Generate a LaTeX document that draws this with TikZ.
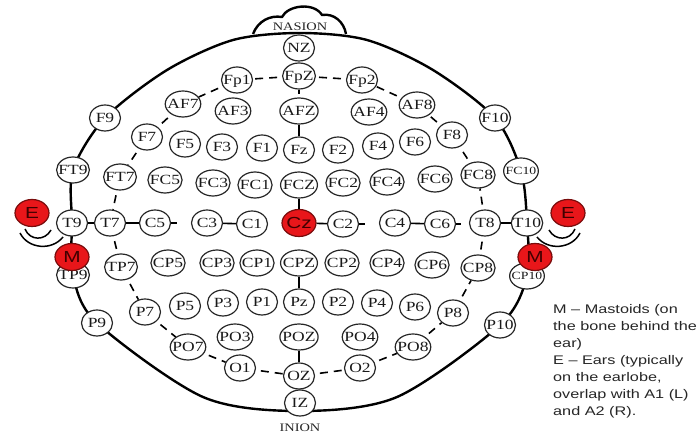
\documentclass[tikz,border=0pt]{standalone}
\usepackage{fontspec}
\setmainfont{Liberation Serif}
\newfontfamily\labelfont[FakeStretch=1.25]{Liberation Serif}
\newfontfamily\keyfont[FakeStretch=1.3]{Liberation Sans}
\usetikzlibrary{shapes.geometric,backgrounds}
\definecolor{refred}{RGB}{232,22,26}
\definecolor{refedge}{RGB}{120,12,12}

\begin{document}
\begin{tikzpicture}[x=1pt,y=-1pt,
  elec/.style={ellipse, draw=black!85, line width=1.2pt, fill=white,
    minimum width=31pt, minimum height=26pt, inner xsep=-3pt, inner ysep=0pt,
    text height=9.5pt, text depth=0pt, text=black!90,
    font=\labelfont\fontsize{14pt}{14pt}\selectfont},
  small/.style={font=\labelfont\fontsize{11pt}{11pt}\selectfont, text height=7.5pt},
  marked/.style={elec, fill=refred, draw=refedge, text=black!75!red,
    minimum width=34pt, minimum height=27pt, text height=11.5pt,
    font=\keyfont\fontsize{16pt}{16pt}\selectfont},
  outline/.style={line width=2.4pt},
  link/.style={line width=1.6pt},
  ringlink/.style={line width=1.6pt, dash pattern=on 8pt off 6pt, dash phase=9pt},
  ear/.style={line width=1.5pt},
  tag/.style={inner sep=0pt, text=black!85, font=\labelfont\fontsize{11.5pt}{12pt}\selectfont},
  key/.style={inner sep=0pt, align=left, text=black!85,
    font=\keyfont\fontsize{12.5pt}{17pt}\selectfont}
]
\useasboundingbox (0,0) rectangle (697,438);

% midline
\node[elec] (NZ)  at (299,48)  {NZ};
\node[elec] (FpZ) at (299,76)  {FpZ};
\node[elec] (AFZ) at (299,111) {AFZ};
\node[elec] (Fz)  at (299,150) {Fz};
\node[elec] (FCZ) at (299,185) {FCZ};
\node[elec] (CPZ) at (299,263) {CPZ};
\node[elec] (Pz)  at (299,302) {Pz};
\node[elec] (POZ) at (299,337) {POZ};
\node[elec] (OZ)  at (299,376) {OZ};
\node[elec] (IZ)  at (300,403) {IZ};

% frontal
\node[elec] (Fp1) at (237,80)  {Fp1};
\node[elec] (Fp2) at (362,80)  {Fp2};
\node[elec] (AF7) at (183,104) {AF7};
\node[elec] (AF3) at (233,111) {AF3};
\node[elec] (AF4) at (369,112) {AF4};
\node[elec] (AF8) at (417,105) {AF8};
\node[elec] (F9)  at (105,118) {F9};
\node[elec] (F7)  at (147,137) {F7};
\node[elec] (F5)  at (185,144) {F5};
\node[elec] (F3)  at (222,147) {F3};
\node[elec] (F1)  at (262,148) {F1};
\node[elec] (F2)  at (338,150) {F2};
\node[elec] (F4)  at (378,146) {F4};
\node[elec] (F6)  at (415,142) {F6};
\node[elec] (F8)  at (452,135) {F8};
\node[elec] (F10) at (495,118) {F10};

% fronto-central
\node[elec] (FT9) at (73,170)  {FT9};
\node[elec] (FT7) at (120,177) {FT7};
\node[elec] (FC5) at (165,180) {FC5};
\node[elec] (FC3) at (213,183) {FC3};
\node[elec] (FC1) at (255,185) {FC1};
\node[elec] (FC2) at (343,183) {FC2};
\node[elec] (FC4) at (387,182) {FC4};
\node[elec] (FC6) at (435,179) {FC6};
\node[elec] (FC8) at (478,175) {FC8};
\node[elec,small] (FC10) at (521,171) {FC10};

% central
\node[elec] (T9)  at (72,223)  {T9};
\node[elec] (T7)  at (110,223) {T7};
\node[elec] (C5)  at (155,223) {C5};
\node[elec] (C3)  at (207,223) {C3};
\node[elec] (C1)  at (252,224) {C1};
\node[elec] (C2)  at (343,224) {C2};
\node[elec] (C4)  at (395,223) {C4};
\node[elec] (C6)  at (440,224) {C6};
\node[elec] (T8)  at (485,223) {T8};
\node[elec] (T10) at (527,223) {T10};

% centro-parietal
\node[elec] (TP9) at (73,275)  {TP9};
\node[elec] (TP7) at (121,267) {TP7};
\node[elec] (CP5) at (168,263) {CP5};
\node[elec] (CP3) at (217,263) {CP3};
\node[elec] (CP1) at (257,263) {CP1};
\node[elec] (CP2) at (342,263) {CP2};
\node[elec] (CP4) at (387,263) {CP4};
\node[elec] (CP6) at (432,265) {CP6};
\node[elec] (CP8) at (478,268) {CP8};
\node[elec,small] (CP10) at (527,276) {CP10};

% parietal and occipital
\node[elec] (P9)  at (97,323)  {P9};
\node[elec] (P7)  at (145,312) {P7};
\node[elec] (P5)  at (185,306) {P5};
\node[elec] (P3)  at (223,303) {P3};
\node[elec] (P1)  at (262,302) {P1};
\node[elec] (P2)  at (338,302) {P2};
\node[elec] (P4)  at (377,303) {P4};
\node[elec] (P6)  at (415,307) {P6};
\node[elec] (P8)  at (453,313) {P8};
\node[elec] (P10) at (500,325) {P10};
\node[elec] (PO7) at (188,347) {PO7};
\node[elec] (PO3) at (235,337) {PO3};
\node[elec] (PO4) at (360,337) {PO4};
\node[elec] (PO8) at (413,347) {PO8};
\node[elec] (O1)  at (240,368) {O1};
\node[elec] (O2)  at (360,368) {O2};

% reference sites
\node[marked] (Cz)    at (299,223) {Cz};
\node[marked] (mastL) at (72,257)  {M};
\node[marked] (mastR) at (535,257) {M};
\node[marked] (earL)  at (32,213)  {E};
\node[marked] (earR)  at (568,213) {E};

\node[tag] (nasion) at (300,27)  {NASION};
\node[tag] (inion)  at (300,428) {INION};

% links
\draw[link] (T9) -- (T7);
\draw[link] (T7) -- (C5);
\draw[link] (C3) -- (C1);
\draw[link] (Cz) -- (C2);
\draw[link] (C4) -- (C6);
\draw[link] (T8) -- (T10);
\draw[link] (C5.east) -- ++(6,0);
\draw[link] (C2.east) -- ++(6,0);
\draw[link] (C6.east) -- ++(5,0);
\draw[link] (AFZ) -- (Fz);
\draw[link] (FCZ) -- (Cz);
\draw[link] (CPZ) -- (Pz);
\draw[link] (POZ) -- (OZ);
\draw[link] (FpZ.south) -- ++(0,4);

\foreach \a/\b in {FpZ/Fp1, Fp1/AF7, AF7/F7, F7/FT7, FT7/T7, T7/TP7, TP7/P7,
    P7/PO7, PO7/O1, O1/OZ, OZ/O2, O2/PO8, PO8/P8, P8/CP8, CP8/T8, T8/FC8,
    FC8/F8, F8/AF8, AF8/Fp2, Fp2/FpZ}
  \draw[ringlink] (\a) -- (\b);

% ears
\draw[ear] (20,233) .. controls (28,249) and (52,251) .. (63,237);
\draw[ear] (25,229) .. controls (30,241) and (45,241) .. (51,230);
\draw[ear] (580,233) .. controls (572,249) and (548,251) .. (537,237);
\draw[ear] (575,229) .. controls (570,241) and (555,241) .. (549,230);

\node[key, anchor=north west] (key) at (553,304)
  {M – Mastoids (on\\the bone behind the\\ear)\\E – Ears (typically\\on the earlobe,\\overlap with A1 (L)\\and A2 (R).};

\begin{scope}[on background layer]
  \fill[white] (0,0) rectangle (697,438);
  \draw[outline] plot[smooth cycle] coordinates {(300,33) (367,40) (433,70)
    (F10.center) (FC10.center) (T10.center) (CP10.center) (P10.center)
    (397,397) (300,411) (203,397) (P9.center) (TP9.center) (T9.center)
    (FT9.center) (F9.center) (167,70) (233,40)};
  \draw[outline] (253,34) .. controls (258,21) and (270,15) .. (282,17)
    .. controls (288,5) and (314,2) .. (322,15)
    .. controls (334,13) and (344,22) .. (346,34);
\end{scope}
\end{tikzpicture}
\end{document}
